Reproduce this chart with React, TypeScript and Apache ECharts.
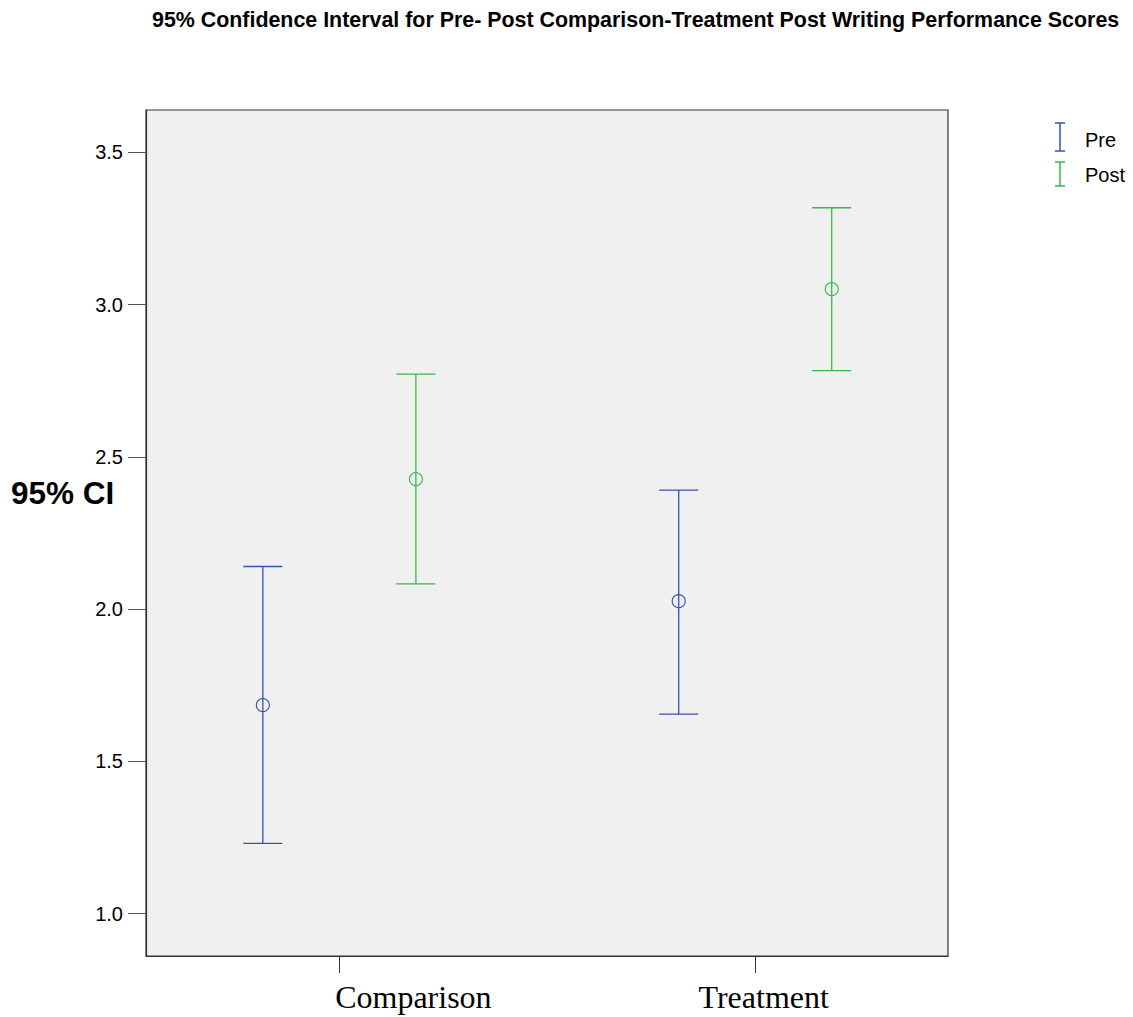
import React, { useEffect, useRef } from "react";
import * as echarts from "echarts";

const titleText =
  "95% Confidence Interval for Pre- Post Comparison-Treatment Post Writing Performance Scores";
const groupNames = ["Comparison", "Treatment"];
const groupPositions = [1, 2];
const seriesNames = ["Pre", "Post"];
// [lower, mean, upper] per group
const preValues = [
  [1.231, 1.685, 2.14],
  [1.655, 2.026, 2.391],
];
const postValues = [
  [2.083, 2.427, 2.772],
  [2.783, 3.051, 3.318],
];
const yTicks = [1.0, 1.5, 2.0, 2.5, 3.0, 3.5];
const yAxisTitle = "95% CI";

const BLUE = "#3652b0";
const GREEN = "#36ba43";
const OFFSET = 0.184;
const CAP_HALF = 19.5;
const R = 6.5;

function makeSeries(name: string, values: number[][], offset: number, color: string) {
  return {
    name,
    type: "custom",
    data: values.map((v, i) => [groupPositions[i], v[0], v[1], v[2]]),
    renderItem: (params: any, api: any) => {
      const x = api.value(0) + offset;
      const lo = api.coord([x, api.value(1)]);
      const mid = api.coord([x, api.value(2)]);
      const hi = api.coord([x, api.value(3)]);
      const st = { stroke: color, lineWidth: 1.3, fill: "none" };
      return {
        type: "group",
        children: [
          { type: "line", shape: { x1: lo[0], y1: lo[1], x2: hi[0], y2: hi[1] }, style: st },
          { type: "line", shape: { x1: hi[0] - CAP_HALF, y1: hi[1], x2: hi[0] + CAP_HALF, y2: hi[1] }, style: st },
          { type: "line", shape: { x1: lo[0] - CAP_HALF, y1: lo[1], x2: lo[0] + CAP_HALF, y2: lo[1] }, style: st },
          { type: "circle", shape: { cx: mid[0], cy: mid[1], r: R }, style: { stroke: color, lineWidth: 1.1, fill: "none" } },
        ],
      };
    },
  };
}

function legendIcon(x: number, y1: number, y2: number, color: string) {
  const st = { stroke: color, lineWidth: 1.5 };
  return [
    { type: "line", shape: { x1: x, y1, x2: x, y2 }, style: st },
    { type: "line", shape: { x1: x - 5, y1, x2: x + 5, y2: y1 }, style: st },
    { type: "line", shape: { x1: x - 5, y1: y2, x2: x + 5, y2 }, style: st },
  ];
}

export default function App() {
  const ref = useRef<HTMLDivElement>(null);
  useEffect(() => {
    if (!ref.current) return;
    const chart = echarts.init(ref.current, undefined, { renderer: "svg" });
    const option: any = {
      animation: false,
      backgroundColor: "#ffffff",
      title: {
        text: titleText,
        left: 152,
        top: 9,
        padding: 0,
        textStyle: { fontSize: 21.4, fontWeight: "bold", color: "#000", fontFamily: "Arial, 'Liberation Sans', sans-serif" },
      },
      grid: {
        left: 146,
        top: 110,
        width: 802,
        height: 846,
        show: true,
        backgroundColor: "#f0f0f0",
        borderColor: "#333",
        borderWidth: 1.2,
        containLabel: false,
      },
      xAxis: {
        type: "value",
        min: 0.535,
        max: 2.4636,
        axisLine: { show: true, onZero: false, lineStyle: { color: "#333", width: 1.2 } },
        splitLine: { show: false },
        axisTick: { show: true, length: 17, customValues: groupPositions, lineStyle: { color: "#333", width: 1 } },
        axisLabel: {
          customValues: groupPositions,
          margin: 25,
          verticalAlign: "top",
          formatter: (v: number) => (v === 1 ? "{c|" + groupNames[0] + "}" : "{t|" + groupNames[1] + "}"),
          rich: {
            c: { fontSize: 32, fontFamily: "'Times New Roman', 'Liberation Serif', serif", color: "#000", padding: [0, 0, 0, 148] },
            t: { fontSize: 32, fontFamily: "'Times New Roman', 'Liberation Serif', serif", color: "#000", padding: [0, 0, 0, 17] },
          },
        },
      },
      yAxis: {
        type: "value",
        min: 0.861,
        max: 3.639,
        axisLine: { show: true, lineStyle: { color: "#333", width: 1.2 } },
        splitLine: { show: false },
        axisTick: { show: true, length: 18, customValues: yTicks, lineStyle: { color: "#555", width: 1 } },
        axisLabel: {
          customValues: yTicks,
          margin: 23,
          fontSize: 20,
          color: "#000",
          fontFamily: "Arial, 'Liberation Sans', sans-serif",
          formatter: (v: number) => v.toFixed(1),
        },
      },
      graphic: [
        {
          type: "text",
          left: 11,
          top: 477,
          style: { text: yAxisTitle, fontSize: 31.5, fontWeight: "bold", fill: "#000", fontFamily: "Arial, 'Liberation Sans', sans-serif" },
        },
        ...legendIcon(1060, 123, 151, BLUE),
        ...legendIcon(1060, 162, 186, GREEN),
        {
          type: "text",
          left: 1085,
          top: 130,
          style: { text: seriesNames[0], fontSize: 20, fill: "#000", fontFamily: "Arial, 'Liberation Sans', sans-serif" },
        },
        {
          type: "text",
          left: 1085,
          top: 165,
          style: { text: seriesNames[1], fontSize: 20, fill: "#000", fontFamily: "Arial, 'Liberation Sans', sans-serif" },
        },
      ],
      series: [
        makeSeries(seriesNames[0], preValues, -OFFSET, BLUE),
        makeSeries(seriesNames[1], postValues, OFFSET, GREEN),
      ],
    };
    chart.setOption(option);
    return () => chart.dispose();
  }, []);
  return (
    <div
      ref={ref}
      style={{ position: "fixed", left: 0, top: 0, width: 1133, height: 1017 }}
    />
  );
}
